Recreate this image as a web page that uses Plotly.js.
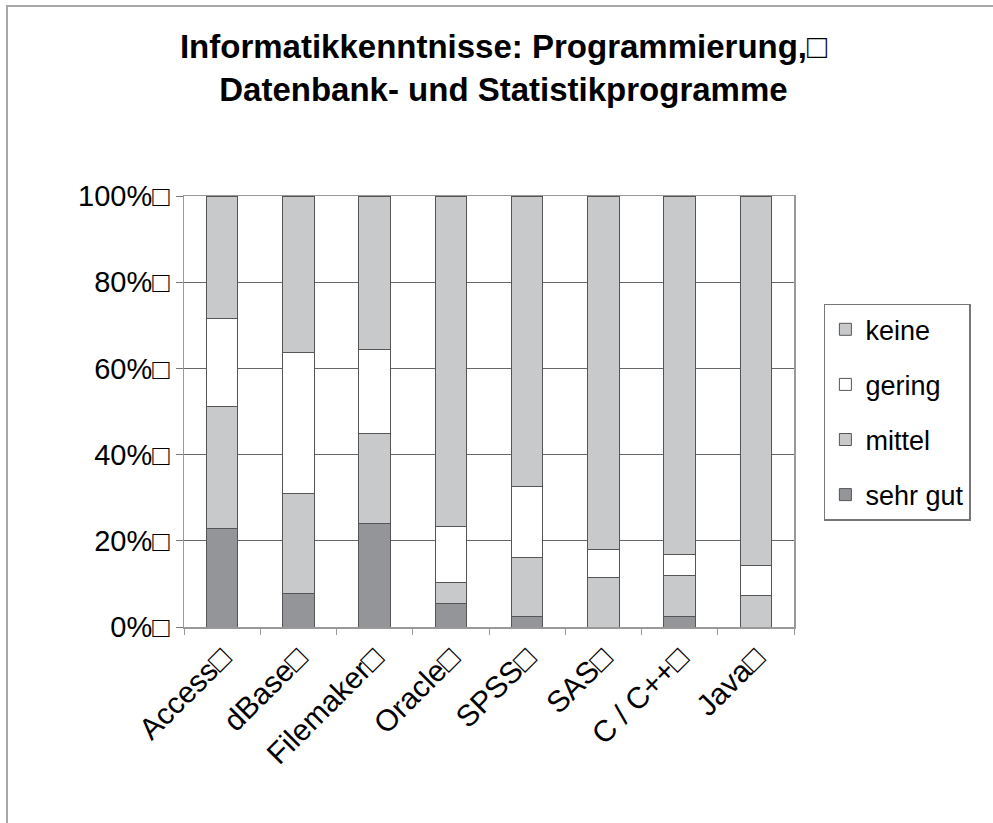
<!DOCTYPE html>
<html>
<head>
<meta charset="utf-8">
<script src="https://cdn.plot.ly/plotly-3.0.1.min.js"></script>
<style>
  html, body { margin: 0; padding: 0; background: #fff; }
  #frame { position: absolute; left: 6px; top: 5px; width: 1000px; height: 830px;
           border-left: 2px solid #a8a8a8; border-top: 2px solid #a8a8a8; }
  #chart { position: absolute; left: 0; top: 0; width: 993px; height: 823px; }
</style>
</head>
<body>
<div id="frame"></div>
<div id="chart"></div>
<script>
const categories = ["Access□", "dBase□", "Filemaker□", "Oracle□", "SPSS□", "SAS□", "C / C++□", "Java□"];
const sehrGut = [22.9, 7.8, 24.1, 5.5, 2.4, 0.0, 2.4, 0.0];
const mittel  = [28.2, 23.1, 20.8, 4.9, 13.8, 11.5, 9.6, 7.2];
const gering  = [20.5, 32.8, 19.5, 12.9, 16.4, 6.5, 4.9, 7.0];
const keine   = [28.4, 36.3, 35.6, 76.7, 67.4, 82.0, 83.1, 85.8];
const yTickVals = [0, 20, 40, 60, 80, 100];
const yTickText = ["0%□", "20%□", "40%□", "60%□", "80%□", "100%□"];

const lineStyle = { color: "#555555", width: 1 };
const traces = [
  { name: "sehr gut", y: sehrGut, color: "#949599", rank: 4 },
  { name: "mittel",   y: mittel,  color: "#c8c9cb", rank: 3 },
  { name: "gering",   y: gering,  color: "#ffffff", rank: 2 },
  { name: "keine",    y: keine,   color: "#c8c9cb", rank: 1 }
].map(s => ({
  type: "bar", name: s.name, legendgroup: s.name, legendrank: s.rank,
  x: categories, y: s.y,
  marker: { color: s.color, line: lineStyle },
  hoverinfo: "name+y"
}));

const font = "'Liberation Sans', Arial, Helvetica, sans-serif";
const layout = {
  width: 993, height: 823,
  paper_bgcolor: "rgba(0,0,0,0)", plot_bgcolor: "#ffffff",
  margin: { l: 184, r: 199, t: 196, b: 196, pad: 0 },
  barmode: "stack", bargap: 0.59,
  showlegend: true,
  font: { family: font, color: "#000000" },
  title: {
    text: "<b>Informatikkenntnisse: Programmierung,□<br>Datenbank- und Statistikprogramme</b>",
    font: { family: font, size: 33, color: "#000000" },
    x: 0.507, xanchor: "center", xref: "container",
    y: 0.93, yanchor: "top", yref: "container"
  },
  xaxis: {
    type: "category", tickangle: -45,
    tickfont: { family: font, size: 30, color: "#000" },
    showline: true, linecolor: "#999999", linewidth: 1.5, mirror: true,
    ticks: "outside", tickson: "boundaries", ticklen: 6, tickcolor: "#999999",
    showgrid: false, fixedrange: true
  },
  yaxis: {
    range: [0, 100], tickvals: yTickVals, ticktext: yTickText,
    tickfont: { family: font, size: 29, color: "#000" },
    showline: true, linecolor: "#999999", linewidth: 1.5, mirror: true,
    ticks: "outside", ticklen: 7, tickcolor: "#777777",
    showgrid: true, gridcolor: "#666666", gridwidth: 1,
    zeroline: false, fixedrange: true
  },
  legend: {
    x: 1.049, xanchor: "left", y: 0.75, yanchor: "top",
    traceorder: "grouped", tracegroupgap: 17,
    bordercolor: "#777777", borderwidth: 1.5, bgcolor: "#ffffff",
    font: { family: font, size: 27, color: "#000" },
    itemclick: false, itemdoubleclick: false
  }
};

Plotly.newPlot("chart", traces, layout, { displayModeBar: false, staticPlot: true });
</script>
</body>
</html>
